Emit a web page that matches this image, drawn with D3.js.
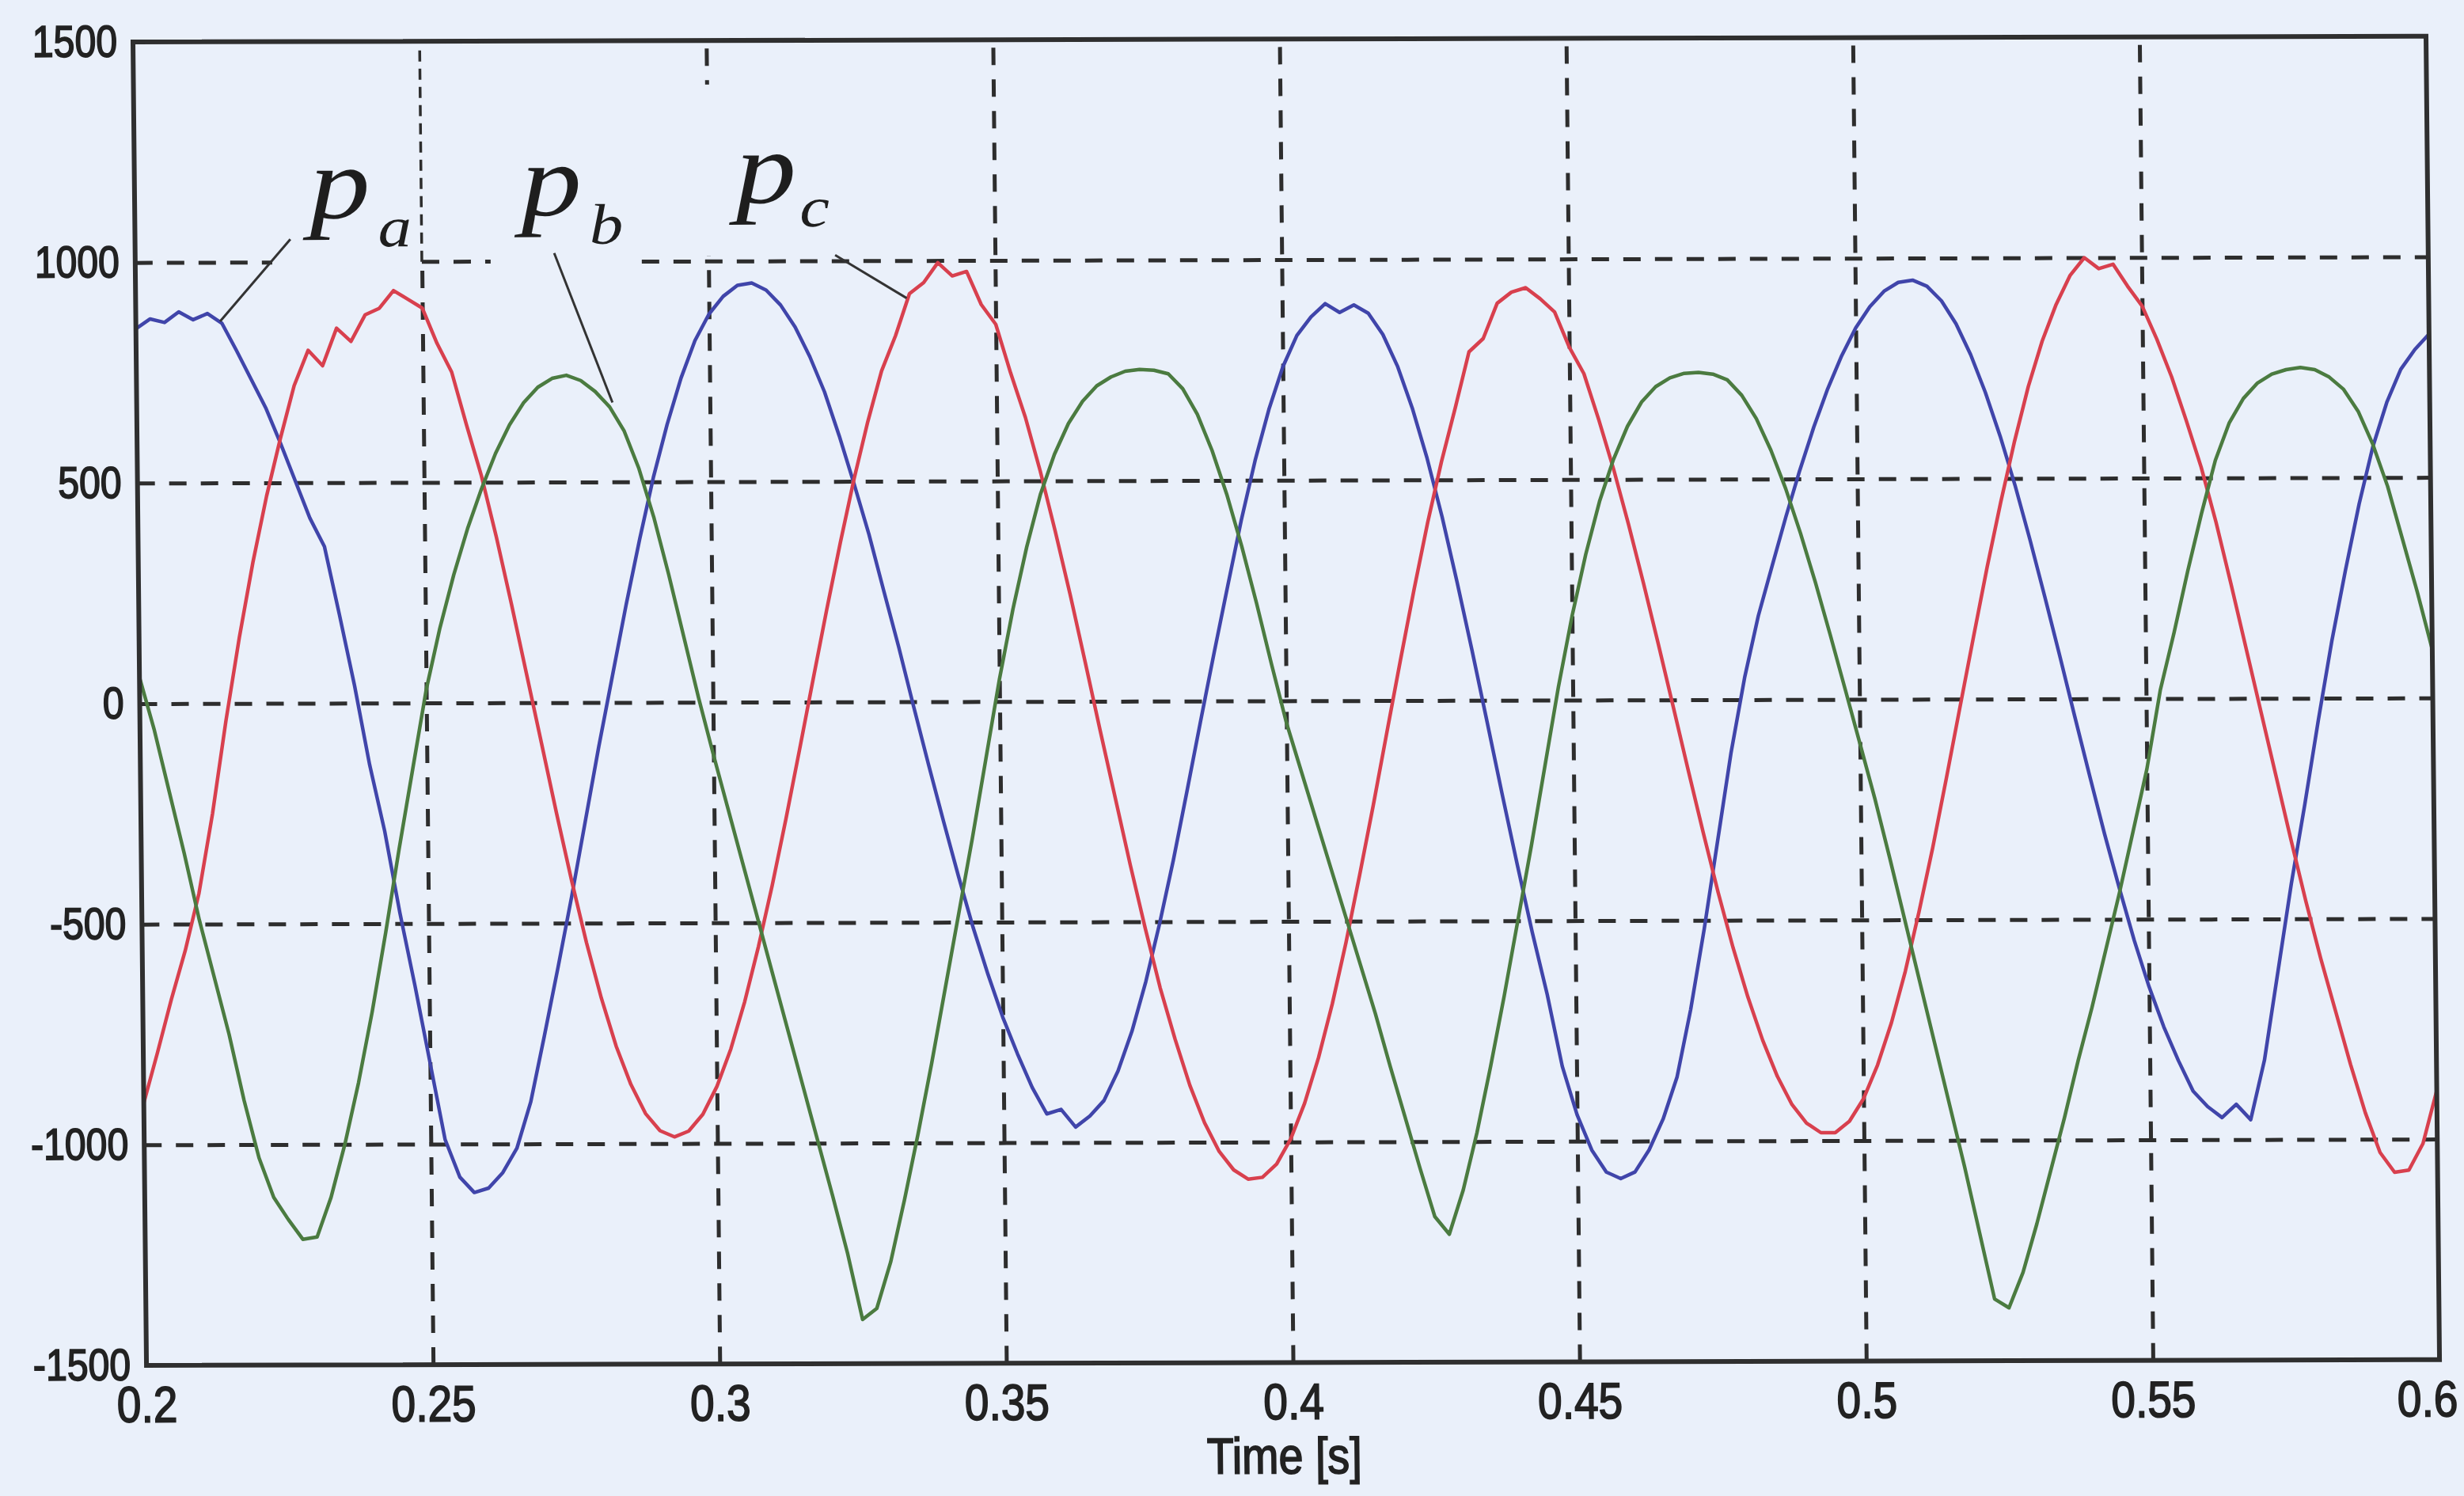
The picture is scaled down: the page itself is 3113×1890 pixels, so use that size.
<!DOCTYPE html>
<html>
<head>
<meta charset="utf-8">
<script src="https://cdn.jsdelivr.net/npm/d3@7"></script>
<style>
  body { margin: 0; background: #eaf0fa; }
  svg { display: block; }
  .lbl text, text.lbl { font-family: "Liberation Sans", Arial, sans-serif; fill: #222; stroke: #222; stroke-width: 1.8px; }
</style>
</head>
<body>
<div class="canva"></div>
<script>
// samples start at t0 and are dt apart (seconds)
const t0 = 0.2, dt = 0.0025;

// phase a power (blue)
const pa = [
  850, 872, 864, 888, 870, 884, 862, 800, 735, 670,
  590, 505, 420, 355, 200, 40, -140, -290, -475, -640,
  -815, -990, -1075, -1110, -1100, -1065, -1010, -905, -755, -600,
  -440, -270, -100, 60, 220, 370, 510, 630, 735, 820,
  880, 920, 945, 950, 934, 900, 850, 783, 703, 603,
  494, 380, 251, 124, -11, -143, -271, -395, -513, -619,
  -716, -799, -875, -935, -925, -965, -940, -905, -838, -748,
  -636, -505, -362, -206, -47, 109, 261, 411, 545, 661,
  757, 828, 870, 900, 880, 897, 878, 830, 758, 663,
  549, 417, 269, 113, -49, -213, -372, -526, -667, -830,
  -940, -1020, -1070, -1085, -1070, -1020, -950, -855, -702, -520,
  -320, -120, 50, 190, 303, 415, 520, 617, 704, 779,
  842, 890, 925, 945, 950, 936, 903, 851, 781, 695,
  596, 485, 362, 232, 98, -39, -174, -306, -430, -548,
  -653, -744, -821, -890, -925, -950, -920, -955, -820, -620,
  -420, -240, -50, 130, 290, 440, 570, 670, 745, 790,
  825
];

// phase b power (red)
const pb = [
  -905, -790, -670, -560, -430, -250, -40, 150, 320, 470,
  600, 720, 800, 765, 850, 820, 880, 895, 935, 915,
  895, 815, 750, 630, 515, 376, 225, 67, -91, -250,
  -402, -544, -670, -779, -866, -932, -971, -985, -972, -934,
  -871, -786, -679, -554, -416, -266, -109, 51, 209, 361,
  505, 635, 750, 830, 925, 950, 995, 965, 975, 900,
  855, 745, 644, 522, 386, 242, 89, -67, -219, -371,
  -515, -650, -766, -871, -956, -1021, -1063, -1084, -1080, -1050,
  -993, -912, -809, -687, -548, -395, -237, -72, 92, 252,
  404, 541, 663, 790, 820, 900, 925, 935, 910, 880,
  800, 740, 636, 524, 399, 266, 127, -16, -160, -301,
  -437, -562, -674, -772, -854, -918, -960, -982, -982, -956,
  -905, -829, -733, -617, -482, -337, -180, -19, 141, 299,
  447, 584, 708, 811, 894, 960, 1000, 975, 985, 935,
  890, 815, 730, 630, 525, 400, 260, 115, -30, -175,
  -320, -460, -590, -710, -830, -940, -1030, -1075, -1070, -1010,
  -890
];

// phase c power (green)
const pc = [
  60, -60, -200, -340, -490, -620, -750, -900, -1030, -1120,
  -1170, -1215, -1210, -1120, -1000, -860, -700, -520, -330, -150,
  30, 170, 290, 395, 485, 565, 630, 680, 715, 735,
  742, 730, 705, 670, 615, 530, 420, 290, 150, 10,
  -120, -245, -370, -495, -620, -745, -870, -995, -1120, -1250,
  -1400, -1375, -1270, -1130, -980, -820, -650, -480, -310, -130,
  50, 210, 350, 470, 560, 630, 680, 715, 735, 748,
  752, 750, 742, 708, 650, 568, 468, 351, 221, 83,
  -50, -160, -270, -380, -490, -600, -710, -830, -945, -1060,
  -1170, -1210, -1110, -980, -830, -670, -500, -330, -150, 30,
  190, 330, 450, 545, 620, 675, 710, 730, 740, 742,
  738, 725, 690, 637, 565, 478, 377, 266, 147, 24,
  -100, -225, -360, -500, -640, -780, -920, -1060, -1210, -1360,
  -1380, -1300, -1190, -1070, -950, -820, -700, -570, -440, -300,
  -160, 20, 150, 290, 420, 540, 625, 680, 715, 735,
  745, 750, 745, 728, 700, 650, 575, 480, 360, 240,
  110
];

const xTicks = [0.2, 0.25, 0.3, 0.35, 0.4, 0.45, 0.5, 0.55, 0.6];
const xTickLabels = ['0.2', '0.25', '0.3', '0.35', '0.4', '0.45', '0.5', '0.55', '0.6'];
const yTicks = [-1500, -1000, -500, 0, 500, 1000, 1500];

const series = [
  {values: pa, color: '#4045aa'},
  {values: pb, color: '#d8404e'},
  {values: pc, color: '#4b7b40'}
];

// curve names and where they sit (data units), with their leader lines
const names = [
  {sub: 'a', p: [0.2303, 1100], sdx: 8, sdy: 36, from: [0.2271, 1052], to: [0.2147, 866]},
  {sub: 'b', p: [0.2672, 1105], sdx: 8, sdy: 36, from: [0.2731, 1019], to: [0.2830, 680]},
  {sub: 'c', p: [0.3047, 1132], sdx: 3, sdy: 30, from: [0.3221, 1013], to: [0.3345, 915]}
];

// white patch behind the names in the original figure (data units)
const patches = [
  {t0: 0.2239, t1: 0.2873, v0: 985, v1: 1497},
  {t0: 0.2873, t1: 0.3030, v0: 1012, v1: 1400}
];

const bg = '#eaf0fa';
const W = 2897, H = 1672;

const svg = d3.select('.canva').append('svg')
    .attr('width', 3113)
    .attr('height', 1890);

svg.append('rect').attr('width', 3113).attr('height', 1890).attr('fill', bg);

// the scanned figure is slightly sheared
const graph = svg.append('g')
    .attr('transform', 'matrix(1,-0.0025,0.0102,1,168,53)');

const x = d3.scaleLinear().domain([0.2, 0.6]).range([0, W]);
const y = d3.scaleLinear().domain([-1500, 1500]).range([H, 0]);

// dashed grid
const gridX = graph.append('g')
    .attr('transform', `translate(0, ${H})`)
    .call(d3.axisBottom(x).tickValues(xTicks.slice(1, -1)).tickSize(-H).tickFormat(''));
const gridY = graph.append('g')
    .call(d3.axisLeft(y).tickValues(yTicks.slice(1, -1)).tickSize(-W).tickFormat(''));
[gridX, gridY].forEach(g => {
  g.select('.domain').remove();
  g.selectAll('line')
      .attr('stroke', '#2d2d2d')
      .attr('stroke-width', 5)
      .attr('stroke-dasharray', '22,18');
});

graph.selectAll('rect.patch')
  .data(patches)
  .enter().append('rect')
    .attr('class', 'patch')
    .attr('x', d => x(d.t0))
    .attr('y', d => y(d.v1))
    .attr('width', d => x(d.t1) - x(d.t0))
    .attr('height', d => y(d.v0) - y(d.v1))
    .attr('fill', bg);

// bits of grid that show through the patch
graph.append('line')
    .attr('x1', x(0.25)).attr('x2', x(0.25))
    .attr('y1', y(1000)).attr('y2', y(1500))
    .attr('stroke', '#2d2d2d').attr('stroke-width', 3.5)
    .attr('stroke-dasharray', '14,9');
graph.append('line')
    .attr('x1', x(0.25)).attr('x2', x(0.262))
    .attr('y1', y(1000)).attr('y2', y(1000))
    .attr('stroke', '#2d2d2d').attr('stroke-width', 5)
    .attr('stroke-dasharray', '22,18');

// curves
const line = d3.line()
    .x((d, i) => x(t0 + i * dt))
    .y(d => y(d));

graph.selectAll('path.curve')
  .data(series)
  .enter().append('path')
    .attr('class', 'curve')
    .attr('d', d => line(d.values))
    .attr('fill', 'none')
    .attr('stroke', d => d.color)
    .attr('stroke-width', 4.5)
    .attr('stroke-linejoin', 'round');

// frame
graph.append('rect')
    .attr('width', W).attr('height', H)
    .attr('fill', 'none')
    .attr('stroke', '#2f2f2f')
    .attr('stroke-width', 6);

// tick labels
const yAxis = graph.append('g').attr('class', 'lbl')
    .call(d3.axisLeft(y).tickValues(yTicks).tickSize(0).tickPadding(20).tickFormat(d => String(d)));
yAxis.select('.domain').remove();
yAxis.selectAll('text')
    .attr('font-size', 56)
    .style('transform-box', 'fill-box')
    .style('transform-origin', 'right center')
    .style('transform', 'scaleX(0.86)');

const xAxis = graph.append('g').attr('class', 'lbl')
    .attr('transform', `translate(0, ${H})`)
    .call(d3.axisBottom(x).tickValues(xTicks).tickSize(0).tickPadding(26)
      .tickFormat((d, i) => xTickLabels[i]));
xAxis.select('.domain').remove();
xAxis.selectAll('text')
    .attr('font-size', 64)
    .attr('dx', (d, i) => i === xTicks.length - 1 ? -16 : 0)
    .style('transform-box', 'fill-box')
    .style('transform-origin', 'center')
    .style('transform', 'scaleX(0.86)');

graph.append('text')
    .attr('class', 'lbl')
    .attr('x', x(0.4) - 12)
    .attr('y', H + 140)
    .attr('text-anchor', 'middle')
    .attr('font-size', 64)
    .style('transform-box', 'fill-box')
    .style('transform-origin', 'center')
    .style('transform', 'scaleX(0.87)')
    .text('Time [s]');

// curve names
const nm = graph.append('g');
nm.selectAll('line')
  .data(names)
  .enter().append('line')
    .attr('x1', d => x(d.from[0])).attr('y1', d => y(d.from[1]))
    .attr('x2', d => x(d.to[0])).attr('y2', d => y(d.to[1]))
    .attr('stroke', '#333')
    .attr('stroke-width', 3);
const label = nm.selectAll('text.name')
  .data(names)
  .enter().append('text')
    .attr('class', 'name')
    .attr('x', d => x(d.p[0])).attr('y', d => y(d.p[1]))
    .attr('font-family', '"Liberation Serif", "Times New Roman", serif')
    .attr('font-style', 'italic')
    .attr('fill', '#1e1e1e')
    .style('transform-box', 'fill-box')
    .style('transform-origin', 'left center')
    .style('transform', 'scaleX(1.18)');
label.append('tspan')
    .attr('font-size', 130)
    .text('p');
label.append('tspan')
    .attr('font-size', 72)
    .attr('dx', d => d.sdx)
    .attr('dy', d => d.sdy)
    .text(d => d.sub);
</script>
</body>
</html>
